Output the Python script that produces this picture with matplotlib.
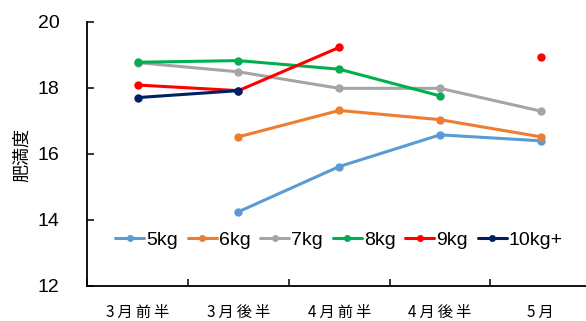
import numpy as np
import matplotlib
matplotlib.use("Agg")
import matplotlib.pyplot as plt
from matplotlib.ticker import FixedLocator

plt.rcParams['font.family'] = ['Liberation Sans', 'Noto Sans CJK JP', 'DejaVu Sans']

nan = np.nan
periods = ["3月前半", "3月後半", "4月前半", "4月後半", "5月"]
series_names = ["5kg", "6kg", "7kg", "8kg", "9kg", "10kg+"]
s5 = [nan, 14.25, 15.62, 16.58, 16.40]
s6 = [nan, 16.52, 17.32, 17.04, 16.52]
s7 = [18.77, 18.49, 17.99, 17.99, 17.30]
s8 = [18.78, 18.83, 18.57, 17.76, nan]
s9 = [18.09, 17.92, 19.23, nan, 18.95]
s10 = [17.71, 17.92, nan, nan, nan]
colors = ["#5B9BD5", "#ED7D31", "#A5A5A5", "#00B050", "#FF0000", "#002060"]

W, H = 586, 321
fig = plt.figure(figsize=(W / 100, H / 100), dpi=100)
left, right, bottom, top = 87.3, 591.2, 286, 22
ax = fig.add_axes([left / W, (H - bottom) / H, (right - left) / W, (bottom - top) / H])

x = np.arange(len(periods))
for name, vals, c in zip(series_names, [s5, s6, s7, s8, s9, s10], colors):
    ax.plot(x, vals, color=c, lw=2.2, marker='o', ms=5, label=name,
            solid_capstyle='round')

ax.set_xlim(-0.5, len(periods) - 0.5)
ax.set_ylim(12, 20)
ax.set_yticks([12, 14, 16, 18, 20])
ax.tick_params(axis='y', direction='in', length=5, width=1.1, pad=20, labelsize=14)

ax.set_xticks(x)
ax.set_xticklabels(["\u2009".join(p) for p in periods],
                   family=['Noto Sans CJK JP', 'DejaVu Sans'], fontsize=11)
ax.tick_params(axis='x', which='major', length=0, pad=13)
ax.xaxis.set_minor_locator(FixedLocator(np.arange(-0.5, len(periods), 1.0)))
ax.tick_params(axis='x', which='minor', direction='in', length=5, width=1.1)

for s in ['top', 'right']:
    ax.spines[s].set_visible(False)
for s in ['left', 'bottom']:
    ax.spines[s].set_linewidth(1.3)

fig.text(22 / W, 1 - 155 / H, "肥満度", rotation=90, ha='center', va='center',
         fontsize=13, family=['Noto Sans CJK JP'])

ax.legend(loc='center', bbox_to_anchor=(0.4995, 0.174), ncol=6, frameon=False,
          fontsize=14, handlelength=1.5, handletextpad=0.1, columnspacing=0.5,
          borderpad=0, borderaxespad=0, markerscale=0.8)

fig.savefig("out.png", dpi=100)
